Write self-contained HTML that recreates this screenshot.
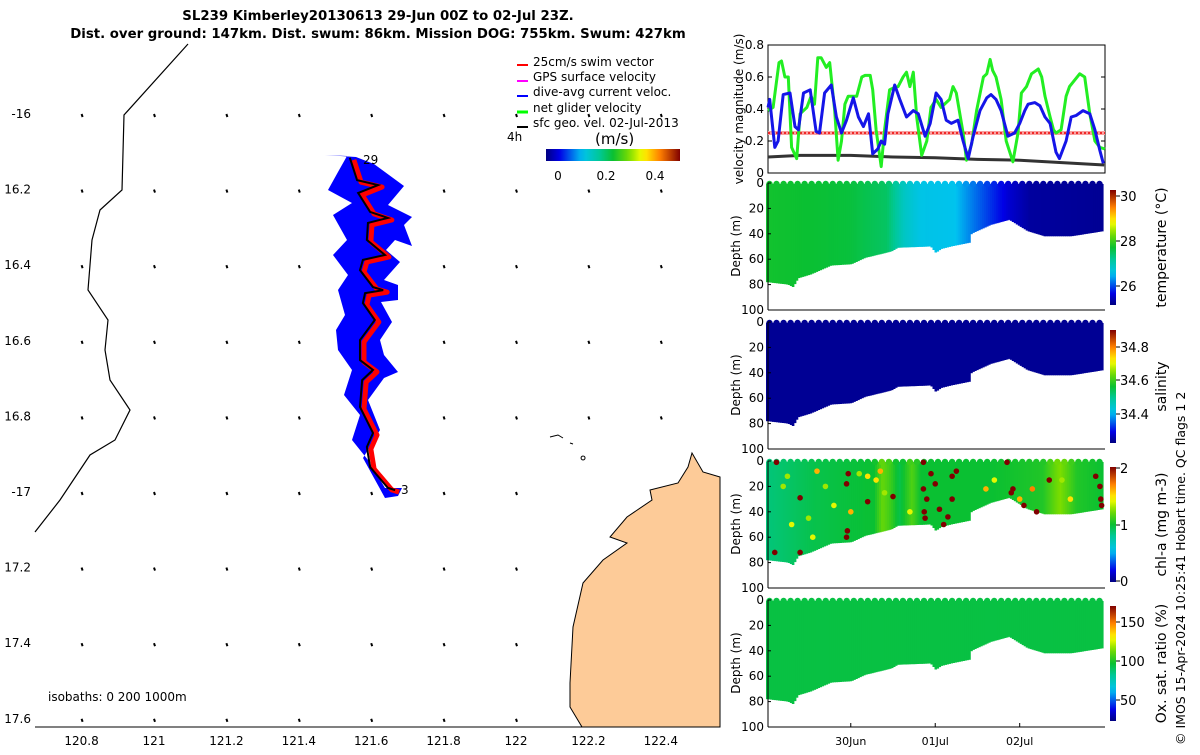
<!DOCTYPE html>
<html><head><meta charset="utf-8"><style>
body{margin:0;background:#fff;width:1200px;height:750px;overflow:hidden}
svg{font-family:"DejaVu Sans","Liberation Sans",sans-serif}
</style></head><body>
<svg id="s" width="1200" height="750" viewBox="0 0 1200 750" xmlns="http://www.w3.org/2000/svg">
<g>
<polygon fill="#fdcb98" stroke="#000" stroke-width="1" points="720,477 703,472 692,453 688,467 678,483 650,490 652,500 627,517 610,537 627,543 603,560 583,583 573,627 570,683 570,707 582,727 720,727"/>
<polyline fill="none" stroke="#000" stroke-width="1.2" points="188,44 124,115 122,190 100,210 92,240 88,290 108,320 105,350 110,380 130,410 115,440 90,455 60,500 35,532"/>
<path d="M550,437 l8,-2 l5,3 M570,443 l3,1 M583,456 a2,2 0 1,0 0.1,0" stroke="#000" fill="none"/>
<line x1="35" y1="727" x2="720" y2="727" stroke="#000"/>
<g id="vectors"></g>
<polygon fill="#0000ff" points="325,155 347,156 338,172 328,190 352,203 333,215 347,240 333,255 348,275 338,290 345,315 336,330 338,350 352,370 344,395 360,415 352,440 368,460 385,488 402,488 398,496 385,498 374,478 363,458 380,430 368,400 384,378 398,372 384,355 380,340 392,322 381,302 398,300 398,285 384,280 400,262 386,250 395,240 412,246 404,225 412,217 388,205 404,186 374,164 356,157"/>
<g id="track"></g>
<text x="363" y="164" font-size="12">29</text>
<text x="401" y="494" font-size="12">3</text>
<text x="48" y="701" font-size="12">isobaths: 0   200   1000m</text>
<g id="mapticks" font-size="12"></g>
<text x="378" y="20" font-size="13.3" font-weight="bold" text-anchor="middle">SL239 Kimberley20130613 29-Jun 00Z to 02-Jul 23Z.</text>
<text x="378" y="38" font-size="13.3" font-weight="bold" text-anchor="middle">Dist. over ground: 147km. Dist. swum: 86km. Mission DOG: 755km. Swum: 427km</text>
<g font-size="12">
<g><line x1="528" y1="65" x2="517" y2="65" stroke="#f00" stroke-width="2"/><text x="533" y="66">25cm/s swim vector</text></g>
<g><line x1="528" y1="81" x2="517" y2="81" stroke="#f0f" stroke-width="2"/><text x="533" y="81">GPS surface velocity</text></g>
<g><line x1="528" y1="96" x2="517" y2="96" stroke="#00f" stroke-width="2"/><text x="533" y="96">dive-avg current veloc.</text></g>
<g><line x1="528" y1="112" x2="517" y2="112" stroke="#0f0" stroke-width="3"/><text x="533" y="112">net glider velocity</text></g>
<g><line x1="528" y1="127" x2="517" y2="127" stroke="#000" stroke-width="2"/><text x="533" y="127">sfc geo. vel. 02-Jul-2013</text></g>
<text x="507" y="141">4h</text>
<text x="595" y="144" font-size="15">(m/s)</text>
<rect id="mapcb" x="546" y="149" width="134" height="12"/>
<text x="558" y="180" text-anchor="middle">0</text><text x="606" y="180" text-anchor="middle">0.2</text><text x="655" y="180" text-anchor="middle">0.4</text>
</g>
</g>
<g id="right"></g>
<text transform="translate(1185,745) rotate(-90)" font-size="12.5">© IMOS 15-Apr-2024 10:25:41 Hobart time. QC flags 1  2</text>
</svg>
<script>
// ---- velocity chart data (t in days since 29-Jun 00Z) ----
const greenT=[0.02,0.08,0.15,0.18,0.22,0.26,0.30,0.36,0.40,0.48,0.53,0.57,0.61,0.65,0.71,0.75,0.81,0.85,0.89,0.93,0.97,1.07,1.13,1.17,1.23,1.26,1.30,1.36,1.40,1.46,1.50,1.56,1.62,1.66,1.70,1.74,1.78,1.84,1.90,1.95,2.01,2.07,2.17,2.21,2.25,2.33,2.37,2.43,2.49,2.57,2.61,2.65,2.68,2.72,2.78,2.84,2.92,2.98,3.02,3.08,3.14,3.22,3.26,3.30,3.36,3.40,3.43,3.49,3.55,3.59,3.65,3.71,3.77,3.83,3.89,3.95,4.01];
const greenV=[0.39,0.41,0.69,0.70,0.60,0.60,0.16,0.09,0.37,0.41,0.48,0.43,0.72,0.72,0.66,0.69,0.39,0.08,0.20,0.43,0.48,0.48,0.60,0.61,0.61,0.52,0.27,0.04,0.27,0.52,0.53,0.54,0.60,0.63,0.54,0.63,0.35,0.11,0.20,0.41,0.46,0.41,0.46,0.54,0.50,0.25,0.08,0.18,0.39,0.60,0.62,0.71,0.64,0.60,0.46,0.20,0.07,0.25,0.50,0.54,0.62,0.65,0.60,0.48,0.35,0.27,0.25,0.27,0.48,0.54,0.58,0.62,0.60,0.37,0.20,0.16,0.15];
const blueT=[0.02,0.04,0.10,0.14,0.20,0.28,0.34,0.38,0.44,0.52,0.59,0.63,0.69,0.77,0.83,0.89,0.95,1.03,1.09,1.15,1.21,1.26,1.32,1.36,1.40,1.44,1.52,1.58,1.66,1.74,1.80,1.88,1.94,2.01,2.07,2.13,2.19,2.27,2.33,2.39,2.45,2.53,2.61,2.66,2.72,2.78,2.86,2.94,3.00,3.06,3.10,3.18,3.24,3.30,3.36,3.43,3.47,3.55,3.61,3.67,3.75,3.83,3.89,3.95,3.99];
const blueV=[0.41,0.46,0.16,0.20,0.49,0.50,0.29,0.27,0.50,0.52,0.26,0.25,0.50,0.55,0.35,0.25,0.33,0.47,0.35,0.29,0.37,0.12,0.15,0.20,0.18,0.37,0.55,0.46,0.35,0.39,0.37,0.23,0.31,0.50,0.46,0.33,0.31,0.33,0.20,0.09,0.23,0.39,0.47,0.49,0.46,0.39,0.23,0.25,0.31,0.39,0.43,0.44,0.42,0.35,0.31,0.13,0.09,0.20,0.35,0.36,0.39,0.37,0.27,0.14,0.06];
const geoT=[0.02,0.4,1.0,1.5,2.0,2.5,3.0,3.5,4.0];
const geoV=[0.10,0.11,0.11,0.10,0.095,0.085,0.08,0.065,0.05];
const swimV=0.25;
const velTicks=[0,0.2,0.4,0.6,0.8];
// ---- section data ----
const bottomT=[0.02,0.28,0.34,0.40,0.55,0.79,1.03,1.19,1.50,1.58,1.97,2.03,2.09,2.21,2.43,2.45,2.68,2.90,3.12,3.32,3.63,4.01];
const bottomD=[78,80,82,75,72,65,64,59,54,51,50,55,52,50,47,40,33,29,38,42,42,38];
const tempT=[0,1.0,1.45,1.66,1.85,2.25,2.5,2.7,2.9,3.15,4.01];
const tempV=[27.8,27.7,27.5,26.9,26.65,26.6,26.2,25.9,25.6,25.35,25.3];
const chlT=[0,0.6,1.3,1.4,1.5,1.6,1.75,1.85,2.0,2.7,3.3,3.5,3.7,4.01];
const chlV=[0.85,0.95,1.0,1.2,1.1,0.95,1.15,1.0,1.0,1.0,1.05,1.25,1.05,1.0];
const chlDotT=[0.1,0.12,0.4,0.4,0.6,0.95,0.95,0.96,0.97,1.0,1.2,1.2,1.5,1.86,1.86,1.87,1.88,1.9,1.95,2.0,2.05,2.1,2.15,2.2,2.25,2.2,2.6,2.85,2.9,2.92,3.05,3.15,3.2,3.35,3.9,3.95,3.96,3.97,0.3,0.7,1.3,2.7,3.0,0.2,0.5,0.8,1.1,1.4,1.7,3.5,3.6,0.25,0.55,1.35];
const chlDotD=[72,1,72,29,8,18,60,55,10,40,32,12,28,1,22,40,45,30,10,18,38,50,44,12,8,30,22,1,25,22,35,22,40,15,12,20,30,35,50,20,15,15,30,20,45,35,10,25,40,15,30,12,60,8];
const chlDotV=[2,2,2,2,1.6,2,2,2,2,1.6,2,1.5,2,2,2,2,2,2,2,2,2,2,2,2,2,2,1.6,2,2,2,2,1.7,2,2,2,2,2,2,1.4,1.3,1.5,1.4,1.6,1.3,1.3,1.4,1.3,1.3,1.4,1.3,1.5,1.3,1.4,1.6];
const oxyV=95;
const depthTicks=[0,20,40,60,80,100];
const dateTicks=[1,2,3];
const dateLabels=["30Jun","01Jul","02Jul"];
// ---- map data ----
const trackLon=[121.541,121.561,121.619,121.564,121.597,121.646,121.591,121.588,121.638,121.577,121.569,121.605,121.633,121.583,121.577,121.610,121.569,121.569,121.605,121.575,121.569,121.605,121.588,121.597,121.646,121.666];
const trackLat=[-16.116,-16.175,-16.188,-16.209,-16.259,-16.275,-16.288,-16.333,-16.373,-16.386,-16.413,-16.458,-16.466,-16.474,-16.500,-16.545,-16.598,-16.651,-16.677,-16.704,-16.775,-16.844,-16.881,-16.934,-16.989,-16.995];
const lonTicks=[120.8,121,121.2,121.4,121.6,121.8,122,122.2,122.4];
const latTicks=[-16,-16.2,-16.4,-16.6,-16.8,-17,-17.2,-17.4,-17.6];
const latLabels=["-16","16.2","16.4","16.6","16.8","-17","17.2","17.4","17.6"];

const NS="http://www.w3.org/2000/svg";
function mk(tag,attrs,parent){const e=document.createElementNS(NS,tag);for(const k in attrs)e.setAttribute(k,attrs[k]);parent.appendChild(e);return e;}
function interp(ts,vs,t){if(t<=ts[0])return vs[0];for(let i=1;i<ts.length;i++){if(t<=ts[i]){const f=(t-ts[i-1])/(ts[i]-ts[i-1]);return vs[i-1]+f*(vs[i]-vs[i-1]);}}return vs[vs.length-1];}
const stops=[[0,[0,0,128]],[0.1,[0,0,230]],[0.27,[0,195,240]],[0.4,[0,200,150]],[0.5,[10,192,50]],[0.62,[120,220,0]],[0.72,[255,255,0]],[0.85,[255,128,0]],[1,[128,0,0]]];
function cmap(f){f=Math.max(0,Math.min(1,f));for(let i=1;i<stops.length;i++){if(f<=stops[i][0]){const a=stops[i-1],b=stops[i],g=(f-a[0])/(b[0]-a[0]);const c=a[1].map((v,j)=>Math.round(v+g*(b[1][j]-v)));return `rgb(${c[0]},${c[1]},${c[2]})`;}}return 'rgb(128,0,0)';}
const svg=document.getElementById('s');
const defs=mk('defs',{},svg);
const grad=mk('linearGradient',{id:'jetH',x1:0,y1:0,x2:1,y2:0},defs);
const gradV=mk('linearGradient',{id:'jetV',x1:0,y1:1,x2:0,y2:0},defs);
for(let i=0;i<=20;i++){mk('stop',{offset:i/20,'stop-color':cmap(i/20)},grad);mk('stop',{offset:i/20,'stop-color':cmap(i/20)},gradV);}
document.getElementById('mapcb').setAttribute('fill','url(#jetH)');
const lx=lon=>154+(lon-121)*362, ly=lat=>114+(-16-lat)*378;
const vg=document.getElementById('vectors');
lonTicks.forEach(lo=>latTicks.forEach(la=>{
  if(lo>=122.2&&la<=-17.0)return;
  const x=lx(lo),y=ly(la);
  const v=mk('path',{d:`M${x},${y} l1,3`,stroke:'#000','stroke-width':2},vg);
  
  
}));
const tg=document.getElementById('track');
const redPts=trackLon.map((lo,i)=>`${lx(lo)+4},${ly(trackLat[i])+2}`).join(' ');
const red=mk('polyline',{points:redPts,fill:'none',stroke:'#f00','stroke-width':5,'stroke-linejoin':'round'},tg);


const blk=mk('polyline',{points:trackLon.map((lo,i)=>`${lx(lo)},${ly(trackLat[i])}`).join(' '),fill:'none',stroke:'#000','stroke-width':2},tg);


const mt=document.getElementById('mapticks');
lonTicks.forEach(lo=>{const t=mk('text',{x:lx(lo),y:745,'text-anchor':'middle'},mt);t.textContent=String(lo);});
latTicks.forEach((la,i)=>{const t=mk('text',{x:31,y:ly(la)+4,'text-anchor':'end'},mt);t.textContent=latLabels[i];});

const R=document.getElementById('right');
const X0=768,X1=1105,T0=0.02,T1=4.01;
const tx=t=>X0+(t-T0)/(T1-T0)*(X1-X0);
const vTop=45,vBot=173;const vy=v=>vBot-v/0.8*(vBot-vTop);
const vp=mk('g',{},R);
mk('rect',{x:X0,y:vTop,width:X1-X0,height:vBot-vTop,fill:'#fff',stroke:'#000'},vp);
velTicks.forEach(v=>{mk('line',{x1:X0,x2:X0+4,y1:vy(v),y2:vy(v),stroke:'#000'},vp);mk('line',{x1:X1,x2:X1-4,y1:vy(v),y2:vy(v),stroke:'#000'},vp);const t=mk('text',{x:764,y:vy(v)+4,'text-anchor':'end','font-size':12},vp);t.textContent=String(v);});
const vl=mk('text',{transform:`translate(743,109) rotate(-90)`,'text-anchor':'middle','font-size':12},vp);vl.textContent='velocity magnitude (m/s)';
const sw=mk('line',{x1:X0,x2:X1,y1:vy(swimV),y2:vy(swimV),stroke:'#f8a0a0','stroke-width':4},vp);
mk('line',{x1:X0,x2:X1,y1:vy(swimV),y2:vy(swimV),stroke:'#e00','stroke-width':1.5,'stroke-dasharray':'2,2'},vp);
function series(ts,vs,col,w,name){const p=mk('polyline',{points:ts.map((t,i)=>`${tx(t).toFixed(1)},${vy(vs[i]).toFixed(1)}`).join(' '),fill:'none',stroke:col,'stroke-width':w,'stroke-linejoin':'round'},vp);}
series(geoT,geoV,'#333',3,'geo-velocity-line');
series(greenT,greenV,'#22ee22',3,'net-velocity-line');
series(blueT,blueV,'#1515e8',3,'dive-avg-velocity-line');

const panels=[
 {top:183,name:'temperature',label:'temperature (°C)',cb:[190,305],ticks:[[30,196],[28,241],[26,286]],color:t=>cmap((interp(tempT,tempV,t)-25.2)/5.1)},
 {top:322,name:'salinity',label:'salinity',cb:[330,443],ticks:[[34.8,347],[34.6,380],[34.4,414]],color:t=>cmap(0.02)},
 {top:461,name:'chlorophyll',label:'chl-a (mg m-3)',cb:[467,582],ticks:[[2,468],[1,525],[0,581]],color:t=>cmap(interp(chlT,chlV,t)/2)},
 {top:600,name:'oxygen',label:'Ox. sat. ratio (%)',cb:[606,721],ticks:[[150,622],[100,661],[50,700]],color:t=>cmap((oxyV-25)/145)}
];
panels.forEach((P,pi)=>{
  const g=mk('g',{},R);
  const H=127;const dy=d=>P.top+d/100*H;
  const N=170;const dw=(X1-X0)/N;
  for(let i=0;i<N;i++){const t=T0+(i+0.5)/N*(T1-T0);const d=interp(bottomT,bottomD,t);
    const r=mk('rect',{x:(X0+i*dw-2).toFixed(1),y:P.top+1,width:(dw+0.6).toFixed(2),height:(dy(d)-P.top-1).toFixed(1),fill:P.color(t)},g);
    
    }
  for(let k=0;k<48;k++){const t=T0+(k+0.5)/48*(T1-T0);
    const sc=mk('circle',{cx:(tx(t)-2).toFixed(1),cy:P.top+1,r:3.2,fill:P.color(t)},g);
    
    }
  if(pi===2){chlDotT.forEach((t,i)=>{const c=mk('circle',{cx:tx(t),cy:dy(chlDotD[i]),r:2.8,fill:cmap(chlDotV[i]/2)},g);
    
    });}
  mk('line',{x1:X0,x2:X0,y1:P.top,y2:P.top+H,stroke:'#000'},g);
  mk('line',{x1:X0,x2:X1,y1:P.top+H,y2:P.top+H,stroke:'#000'},g);
  depthTicks.forEach(d=>{const t=mk('text',{x:764,y:dy(d)+4,'text-anchor':'end','font-size':12},g);t.textContent=String(d);mk('line',{x1:X0,x2:X0+3,y1:dy(d),y2:dy(d),stroke:'#000'},g);});
  if(pi===3)dateTicks.forEach((dt,i)=>{mk('line',{x1:tx(dt),x2:tx(dt),y1:P.top+H,y2:P.top+H-4,stroke:'#000'},g);const t=mk('text',{x:tx(dt),y:745,'text-anchor':'middle','font-size':11},g);t.textContent=dateLabels[i];});
  const dl=mk('text',{transform:`translate(740,${P.top+63}) rotate(-90)`,'text-anchor':'middle','font-size':12},g);dl.textContent='Depth (m)';
  const cb=mk('rect',{x:1110,y:P.cb[0],width:6,height:P.cb[1]-P.cb[0],fill:'url(#jetV)'},g);
  
  
  P.ticks.forEach(tk=>{mk('line',{x1:1116,x2:1120,y1:tk[1],y2:tk[1],stroke:'#000'},g);const t=mk('text',{x:1120,y:tk[1]+5,'font-size':13},g);t.textContent=String(tk[0]);});
  const cl=mk('text',{transform:`translate(1166,${(P.cb[0]+P.cb[1])/2}) rotate(-90)`,'text-anchor':'middle','font-size':14},g);cl.textContent=P.label;
});
</script>
</body></html>
